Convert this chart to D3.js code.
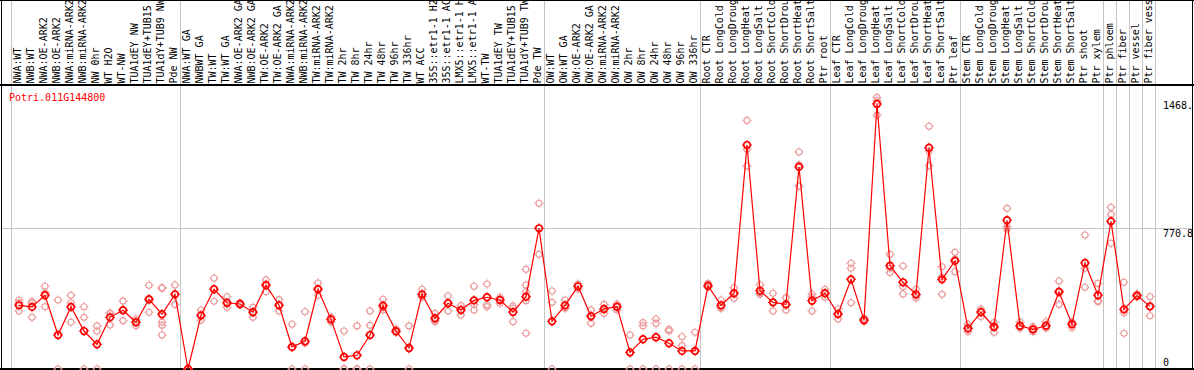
<!DOCTYPE html>
<html lang="en">
<head>
    <meta charset="UTF-8">
    <title>Potri.011G144800</title>
    <style>
        body {
            margin: 0;
            background-color: #ffffff;
            overflow: hidden;
        }
        svg {
            display: block;
        }
        text {
            font-family: "DejaVu Sans Mono", monospace;
            font-size: 10px;
        }
    </style>
</head>
<body>
    <svg id="chart"></svg>

    <script src="https://d3js.org/d3.v7.min.js"></script>
    <script>
        // sample names, in plot order
        const samples = [
            "NWA:WT", "NWB:WT", "NWA:OE-ARK2", "NWB:OE-ARK2", "NWA:miRNA-ARK2", "NWB:miRNA-ARK2",
            "NW 0hr", "WT H2O", "WT-NW", "TUA1dEY NW", "TUA1dEY+TUB15 NW", "TUA1dY+TUB9 NW", "Pde NW",
            "NWA:WT GA", "NWBWT GA", "TW:WT", "TW:WT GA", "NWA:OE-ARK2 GA", "NWB:OE-ARK2 GA",
            "TW:OE-ARK2", "TW:OE-ARK2 GA", "NWA:miRNA-ARK2", "NWB:miRNA-ARK2", "TW:miRNA-ARK2", "TW:miRNA-ARK2",
            "TW 2hr", "TW 8hr", "TW 24hr", "TW 48hr", "TW 96hr", "TW 336hr", "WT ACC",
            "35S::etr1-1 H2O", "35S::etr1-1 ACC", "LMX5::etr1-1 H2O", "LMX5::etr1-1 ACC",
            "WT-TW", "TUA1dEY TW", "TUA1dEY+TUB15 TW", "TUA1dY+TUB9 TW", "Pde TW",
            "OW:WT", "OW:WT GA", "OW:OE-ARK2", "OW:OE-ARK2 GA", "OW:miRNA-ARK2", "OW:miRNA-ARK2",
            "OW 2hr", "OW 8hr", "OW 24hr", "OW 48hr", "OW 96hr", "OW 336hr",
            "Root CTR", "Root LongCold", "Root LongDrought", "Root LongHeat", "Root LongSalt",
            "Root ShortCold", "Root ShortDrought", "Root ShortHeat", "Root ShortSalt", "Ptr root",
            "Leaf CTR", "Leaf LongCold", "Leaf LongDrought", "Leaf LongHeat", "Leaf LongSalt",
            "Leaf ShortCold", "Leaf ShortDrought", "Leaf ShortHeat", "Leaf ShortSalt", "Ptr leaf",
            "Stem CTR", "Stem LongCold", "Stem LongDrought", "Stem LongHeat", "Stem LongSalt",
            "Stem ShortCold", "Stem ShortDrought", "Stem ShortHeat", "Stem ShortSalt", "Ptr shoot", "Ptr xylem",
            "Ptr phloem", "Ptr fiber", "Ptr vessel", "Ptr fiber vessel"
        ];

        // sample counts of each experiment block
        const groupSizes = [13, 28, 12, 10, 10, 11, 1, 1, 1, 1];

        // mean expression per sample
        const means = [
            349, 340, 404, 186, 340, 208, 135, 283, 322, 256, 382, 300, 409,
            0, 294, 437, 363, 356, 311, 459, 349, 121, 152, 437, 272, 66, 75, 186, 347,
            207, 115, 409, 278, 360, 323, 376, 393, 378, 312, 396, 770.8,
            261, 349, 453, 289, 329, 341, 91, 163, 174, 141, 99, 99,
            456, 349, 415, 1227, 429, 365, 354, 1107, 374, 415,
            301, 491, 268, 1452, 566, 475, 409, 1212, 491, 592,
            223, 311, 230, 815, 237, 217, 237, 422, 245, 581, 404,
            809, 327, 402, 343
        ];

        // replicate values per sample
        const replicates = [
            [378, 362, 318], [369, 360, 283], [453, 418, 341], [378, 0], [404, 363, 256], [341, 283, 0],
            [236, 208, 0], [305, 305, 241], [372, 323, 265], [274, 256, 237], [459, 378, 311],
            [445, 442, 257, 239, 186], [460, 411, 354],
            [0, 0, 0], [323, 290, 268], [497, 437, 371], [396, 356, 338], [350, 356, 362], [338, 312, 283],
            [488, 466, 423], [380, 351, 318], [245, 117, 0], [314, 142, 0], [471, 437, 404], [285, 274, 257],
            [208, 0, 0], [236, 0, 0], [318, 239, 0], [382, 336, 323], [219, 203, 201], [236, 110, 0],
            [437, 394, 396], [305, 268, 259], [400, 362, 318], [347, 327, 296], [453, 353, 323],
            [466, 352, 341], [393, 381, 360], [345, 333, 259], [546, 460, 423, 374, 196], [908, 628],
            [427, 365, 0], [378, 336, 333], [466, 455, 438], [323, 293, 250], [354, 326, 305], [356, 341, 323],
            [186, 88, 0], [254, 236, 0], [274, 250, 0], [217, 208, 0], [177, 128, 0], [201, 95, 0],
            [469, 451, 449], [378, 336, 333], [445, 411, 387], [1362, 1204, 1112], [460, 417, 409],
            [415, 364, 318], [391, 349, 323], [1189, 1118, 1002], [411, 394, 318], [437, 415, 393],
            [329, 301, 274], [579, 552, 363], [278, 268, 259], [1488, 1470, 1391], [628, 552, 528],
            [564, 451, 411], [437, 402, 389], [1330, 1194, 1114], [560, 504, 409], [639, 603, 533],
            [245, 219, 204], [329, 316, 287], [254, 236, 201], [880, 780, 767], [257, 232, 223],
            [232, 217, 204], [259, 237, 223], [482, 429, 354], [257, 250, 226], [734, 552, 448],
            [469, 373, 369], [886, 847, 689], [475, 308, 196], [411, 402, 394], [396, 341, 292]
        ];

        const geneId = "Potri.011G144800";
        const tickValues = [1468.4, 770.8, 0];
        const tickLabels = ["1468.", "770.8", "0"];
        const gridValues = [770.8];

        const W = 1194, H = 370;
        const headerBottom = 85;
        const maxChars = 14;   // header only has room for this many characters

        const svg = d3.select("#chart")
            .attr("width", W)
            .attr("height", H);

        // one 13px column per sample
        const x = d3.scaleBand()
            .domain(d3.range(samples.length))
            .range([11, 11 + 13 * samples.length]);

        const y = d3.scaleLinear()
            .domain([0, 770.8])
            .range([369, 228.3]);

        const plotRight = 11 + 13 * samples.length;

        // horizontal grid lines
        svg.selectAll(".hgrid")
            .data(gridValues)
            .enter().append("line")
            .attr("x1", 1).attr("x2", 1192)
            .attr("y1", d => Math.round(y(d)) + 0.5)
            .attr("y2", d => Math.round(y(d)) + 0.5)
            .attr("stroke", "#c4c4c4")
            .attr("stroke-width", 1);

        // vertical separators between experiment blocks
        const sepIdx = [0];
        groupSizes.reduce((acc, n) => { sepIdx.push(acc + n); return acc + n; }, 0);
        svg.selectAll(".vsep")
            .data(sepIdx)
            .enter().append("line")
            .attr("x1", d => (d < samples.length ? x(d) : plotRight) + 0.5)
            .attr("x2", d => (d < samples.length ? x(d) : plotRight) + 0.5)
            .attr("y1", 0).attr("y2", 369)
            .attr("stroke", "#c4c4c4")
            .attr("stroke-width", 1);

        // sample labels, vertical
        svg.selectAll(".lab")
            .data(samples)
            .enter().append("text")
            .attr("transform", (d, i) => `translate(${x(i) + 10},83.5) rotate(-90)`)
            .attr("fill", "#000")
            .text(d => d.slice(0, maxChars));

        // frame
        svg.append("line").attr("x1", 0).attr("x2", W).attr("y1", headerBottom).attr("y2", headerBottom)
            .attr("stroke", "#000").attr("stroke-width", 2);
        svg.append("line").attr("x1", 0).attr("x2", W).attr("y1", 0.5).attr("y2", 0.5)
            .attr("stroke", "#000").attr("stroke-width", 1);
        svg.append("line").attr("x1", 1.5).attr("x2", 1.5).attr("y1", 0).attr("y2", 370)
            .attr("stroke", "#000").attr("stroke-width", 1);
        svg.append("line").attr("x1", 1192.5).attr("x2", 1192.5).attr("y1", 0).attr("y2", 370)
            .attr("stroke", "#000").attr("stroke-width", 1);
        svg.append("line").attr("x1", 0).attr("x2", W).attr("y1", 369).attr("y2", 369)
            .attr("stroke", "#000").attr("stroke-width", 2);

        // gene id
        svg.append("text")
            .attr("x", 9).attr("y", 101)
            .attr("fill", "#ff0000")
            .text(geneId);

        // value labels on the right
        svg.append("clipPath").attr("id", "rclip")
            .append("rect").attr("x", 1156).attr("y", 86).attr("width", 36).attr("height", 282);
        svg.append("g").attr("clip-path", "url(#rclip)")
            .selectAll("text")
            .data(tickValues)
            .enter().append("text")
            .attr("x", 1163)
            .attr("y", d => Math.min(y(d) + 8.5, 365.5))
            .attr("fill", "#000")
            .text((d, i) => tickLabels[i]);

        // circle marker with four small ticks
        function marker(sel, r, t, color, sw) {
            sel.append("circle")
                .attr("r", r)
                .attr("fill", "none")
                .attr("stroke", color)
                .attr("stroke-width", sw);
            sel.append("path")
                .attr("d", `M0,${-r}V${-t}M0,${r}V${t}M${-r},0H${-t}M${r},0H${t}`)
                .attr("stroke", color)
                .attr("stroke-width", 1);
        }

        const cx = i => x(i) + 8;

        // replicates
        const repPts = [];
        replicates.forEach((arr, i) => arr.forEach(v => repPts.push({ i: i, v: v })));
        svg.selectAll(".rep")
            .data(repPts)
            .enter().append("g")
            .attr("transform", d => `translate(${cx(d.i)},${y(d.v)})`)
            .call(marker, 3, 4.6, "#ec9a9a", 1.1);

        // mean line
        const line = d3.line()
            .x((d, i) => cx(i))
            .y(d => y(d));
        svg.append("path")
            .datum(means)
            .attr("fill", "none")
            .attr("stroke", "#ff0000")
            .attr("stroke-width", 1.2)
            .attr("d", line);

        svg.selectAll(".mean")
            .data(means)
            .enter().append("g")
            .attr("transform", (d, i) => `translate(${cx(i)},${y(d)})`)
            .call(marker, 3.3, 5, "#ff0000", 1.7);
    </script>
</body>
</html>
